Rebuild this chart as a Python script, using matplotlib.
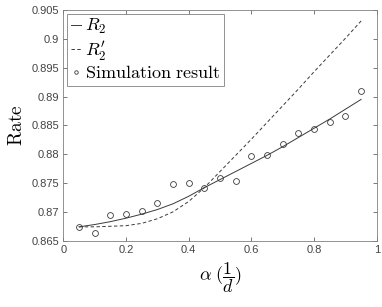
import numpy as np
import matplotlib
matplotlib.use("Agg")
import matplotlib.pyplot as plt
from matplotlib.ticker import FuncFormatter

plt.rcParams['mathtext.fontset'] = 'cm'
plt.rcParams['font.family'] = ['Liberation Sans', 'DejaVu Sans']

# curves R2 and R2'
alpha = [0.05, 0.10, 0.15, 0.20, 0.25, 0.30, 0.35, 0.40, 0.45, 0.50,
         0.55, 0.60, 0.65, 0.70, 0.75, 0.80, 0.85, 0.90, 0.95]
r2 = [0.8674, 0.8678, 0.8683, 0.8689, 0.8696, 0.8704, 0.8714, 0.8727, 0.8742, 0.8756,
      0.8770, 0.8784, 0.8798, 0.8813, 0.8829, 0.8845, 0.8861, 0.8878, 0.8895]
r2_prime = [0.8674, 0.8674, 0.8675, 0.8676, 0.8680, 0.8688, 0.8700, 0.8718, 0.8742, 0.8770,
            0.8798, 0.8826, 0.8855, 0.8884, 0.8913, 0.8943, 0.8972, 0.9001, 0.9031]

# simulation points
sim_alpha = alpha
sim_rate = [0.8674, 0.8663, 0.8695, 0.8696, 0.8702, 0.8715, 0.8748, 0.8750, 0.8742, 0.8758,
            0.8754, 0.8797, 0.8798, 0.8818, 0.8836, 0.8844, 0.8856, 0.8867, 0.8910]

xticks = [0, 0.2, 0.4, 0.6, 0.8, 1]
yticks = [0.865, 0.87, 0.875, 0.88, 0.885, 0.89, 0.895, 0.9, 0.905]

fig = plt.figure(figsize=(3.82, 3.07), dpi=100)
ax = fig.add_axes([0.1657, 0.216, 0.8207, 0.7514])

line_col = '#3a3a3a'
ax.plot(alpha, r2, '-', color=line_col, lw=0.7, label=r'$R_2$')
ax.plot(alpha, r2_prime, '--', color=line_col, lw=0.7, dashes=(3.5, 2.5), label=r"$R_2'$")
ax.plot(sim_alpha, sim_rate, 'o', mfc='none', mec=line_col, mew=0.6, ms=4.2,
        label=r'$\mathrm{Simulation\ result}$')

ax.set_xlim(0, 1)
ax.set_ylim(0.865, 0.905)
ax.set_xticks(xticks)
ax.set_yticks(yticks)
ax.xaxis.set_major_formatter(FuncFormatter(lambda v, p: '%g' % v))
ax.yaxis.set_major_formatter(FuncFormatter(lambda v, p: '%g' % round(v, 3)))

ax.tick_params(direction='in', length=3, width=0.5, colors='#444444',
               labelsize=8, top=True, right=True, pad=3)
for s in ax.spines.values():
    s.set_color('#808080')
    s.set_linewidth(0.6)

ax.set_xlabel(r'$\alpha\ (\dfrac{1}{d})$', fontsize=13, labelpad=4)
ax.set_ylabel(r'$\mathrm{Rate}$', fontsize=14, labelpad=4)

leg = ax.legend(loc='upper left', fontsize=13, handlelength=0.6, handletextpad=0.2,
                labelspacing=0.15, borderpad=0.2, borderaxespad=0.2, markerscale=0.6,
                fancybox=False, framealpha=1, edgecolor='#808080')
leg.get_frame().set_linewidth(0.6)

fig.savefig('out.png', dpi=100)
